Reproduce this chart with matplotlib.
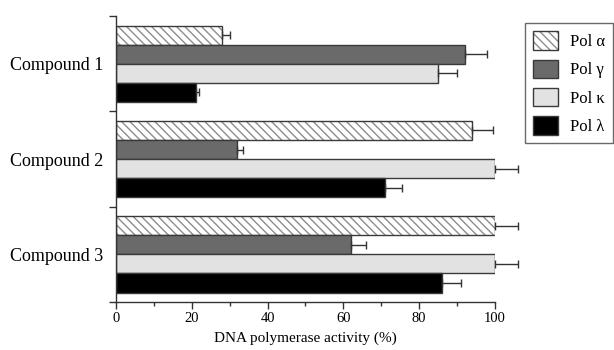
import numpy as np
import matplotlib
matplotlib.use('Agg')
import matplotlib.pyplot as plt
from matplotlib.patches import Patch
from matplotlib.legend_handler import HandlerTuple

plt.rcParams['font.family'] = ['Liberation Serif', 'DejaVu Serif']

compounds = ['Compound 1', 'Compound 2', 'Compound 3']
pols = ['Pol α', 'Pol γ', 'Pol κ', 'Pol λ']
# activity (%) per polymerase, one value per compound
pol_alpha = [28, 94, 100]
pol_gamma = [92, 32, 62]
pol_kappa = [85, 100, 100]
pol_lambda = [21, 71, 86]
err_alpha = [2, 5.5, 6]
err_gamma = [6, 1.6, 4]
err_kappa = [5, 6, 6]
err_lambda = [1, 4.5, 5]

values = [pol_alpha, pol_gamma, pol_kappa, pol_lambda]
errors = [err_alpha, err_gamma, err_kappa, err_lambda]
faces = ['white', '#6a6a6a', '#e2e2e2', 'black']

fig = plt.figure(figsize=(6.14, 3.5), dpi=100)
ax = fig.add_axes([0.189, 0.137, 0.617, 0.817])

y = np.arange(len(compounds))
h = 0.2
offsets = [-0.3, -0.1, 0.1, 0.3]
edge = '#3a3a3a'

for k in range(4):
    pos = y + offsets[k]
    if k == 0:
        ax.barh(pos, values[k], height=h, color='white', edgecolor='#8c8c8c',
                hatch='\\\\\\\\', linewidth=0)
        ax.barh(pos, values[k], height=h, fill=False, edgecolor=edge, linewidth=1)
    else:
        ax.barh(pos, values[k], height=h, color=faces[k], edgecolor=edge, linewidth=1)
    ax.errorbar(values[k], pos, xerr=[[0] * 3, errors[k]], fmt='none',
                ecolor='#333333', elinewidth=1, capsize=3, capthick=1, clip_on=False)

ax.set_xlim(0, 100)
ax.set_ylim(2.5, -0.5)
ax.set_xticks(np.arange(0, 101, 20))
ax.set_xticks(np.arange(10, 100, 20), minor=True)
ax.tick_params(axis='x', which='major', length=5, width=1, color='#333333',
               labelsize=10.5, pad=2)
ax.tick_params(axis='x', which='minor', length=3, width=1, color='#333333')

ax.set_yticks([-0.5, 0.5, 1.5, 2.5])
ax.set_yticklabels([])
ax.set_yticks(y, minor=True)
ax.set_yticklabels(compounds, minor=True, fontsize=13)
ax.tick_params(axis='y', which='major', length=5, width=1, color='#333333')
ax.tick_params(axis='y', which='minor', length=0, pad=9)

for s in ['top', 'right']:
    ax.spines[s].set_visible(False)
for s in ['left', 'bottom']:
    ax.spines[s].set_color('#333333')
    ax.spines[s].set_linewidth(1)

ax.set_xlabel('DNA polymerase activity (%)', fontsize=11, labelpad=5)

handles = [
    (Patch(facecolor='white', edgecolor='#8c8c8c', hatch='\\\\\\\\', linewidth=0),
     Patch(fill=False, edgecolor=edge, linewidth=1)),
    Patch(facecolor=faces[1], edgecolor=edge, linewidth=1),
    Patch(facecolor=faces[2], edgecolor=edge, linewidth=1),
    Patch(facecolor=faces[3], edgecolor=edge, linewidth=1),
]
leg = fig.legend(handles, pols, loc='upper right', bbox_to_anchor=(1.012, 0.958),
                 handler_map={tuple: HandlerTuple(ndivide=1)},
                 fontsize=12, handlelength=1.5, handleheight=1.3,
                 labelspacing=0.58, borderpad=0.5, handletextpad=0.7,
                 fancybox=False, edgecolor='#444444')
leg.get_frame().set_linewidth(1)

fig.savefig('out.png', dpi=100)
